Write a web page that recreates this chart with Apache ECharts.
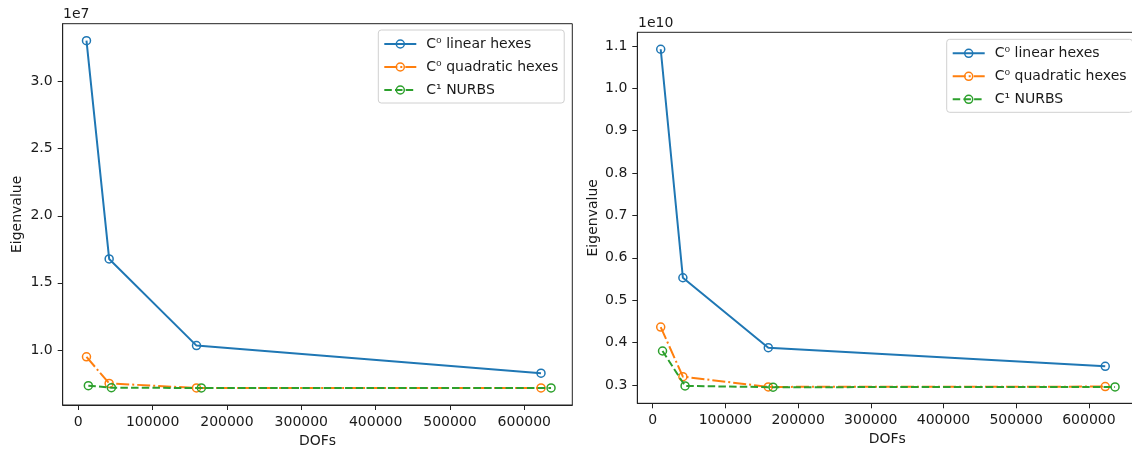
<!DOCTYPE html>
<html>
<head>
<meta charset="utf-8">
<script src="https://cdn.jsdelivr.net/npm/echarts@6/dist/echarts.min.js"></script>
<style>
html,body{margin:0;padding:0;background:#fff;overflow:hidden;}
#c{width:1140px;height:451px;}
</style>
</head>
<body>
<div id="c"></div>
<script>
// ---- data ----
const seriesNames = ['C\u2070 linear hexes', 'C\u2070 quadratic hexes', 'C\u00b9 NURBS'];
const hexDOFs   = [11000, 41500, 159000, 622500];
const nurbsDOFs = [13500, 44500, 165500, 636000];
// left panel (eigenvalue, x 1e7)
const leftLinear    = [3.306e7, 1.678e7, 1.032e7, 0.826e7];
const leftQuadratic = [0.948e7, 0.750e7, 0.716e7, 0.716e7];
const leftNurbs     = [0.733e7, 0.718e7, 0.716e7, 0.716e7];
// right panel (eigenvalue, x 1e10)
const rightLinear    = [1.092e10, 0.553e10, 0.388e10, 0.344e10];
const rightQuadratic = [0.4366e10, 0.3196e10, 0.2955e10, 0.2962e10];
const rightNurbs     = [0.3802e10, 0.2978e10, 0.2948e10, 0.2955e10];
// tick labels
const xTicks = [0, 100000, 200000, 300000, 400000, 500000, 600000];
const leftYTicks = [1.0e7, 1.5e7, 2.0e7, 2.5e7, 3.0e7];
const rightYTicks = [0.3e10, 0.4e10, 0.5e10, 0.6e10, 0.7e10, 0.8e10, 0.9e10, 1.0e10, 1.1e10];

const colors = ['#1f77b4', '#ff7f0e', '#2ca02c'];
const lineTypes = ['solid', [13, 3, 2, 3], [7.5, 3.2]];
const FONT = 'DejaVu Sans';
const FS = 14;
const TXT = '#1a1a1a';

function pair(xs, ys) { return xs.map((x, i) => [x, ys[i]]); }

function mkSeries(name, idx, xs, ys, axisIdx) {
  return {
    type: 'line', name: name,
    xAxisIndex: axisIdx, yAxisIndex: axisIdx,
    data: pair(xs, ys),
    symbol: 'circle', symbolSize: 8,
    showAllSymbol: true,
    animation: false,
    itemStyle: { color: 'rgba(255,255,255,0)', borderColor: colors[idx], borderWidth: 1.5 },
    lineStyle: { color: colors[idx], width: 2, type: lineTypes[idx], cap: 'butt' },
    emphasis: { disabled: true },
    z: 2 + idx
  };
}

function xAxis(gridIndex, min, max) {
  return {
    type: 'value', gridIndex: gridIndex, min: min, max: max,
    name: 'DOFs', nameLocation: 'middle', nameGap: 29,
    nameTextStyle: { fontFamily: FONT, fontSize: FS, color: TXT },
    axisLine: { show: true, onZero: false, lineStyle: { color: '#222', width: 1 } },
    axisTick: { show: true, length: 5, lineStyle: { color: '#222', width: 1 }, customValues: xTicks },
    axisLabel: { show: true, margin: 10, fontFamily: FONT, fontSize: FS, color: TXT, customValues: xTicks,
      formatter: v => String(Math.round(v)) },
    splitLine: { show: false }
  };
}
function yAxis(gridIndex, min, max, ticks, scale, gap) {
  return {
    type: 'value', gridIndex: gridIndex, min: min, max: max,
    name: 'Eigenvalue', nameLocation: 'middle', nameGap: gap,
    nameTextStyle: { fontFamily: FONT, fontSize: FS, color: TXT },
    axisLine: { show: true, onZero: false, lineStyle: { color: '#222', width: 1 } },
    axisTick: { show: true, length: 5, lineStyle: { color: '#222', width: 1 }, customValues: ticks },
    axisLabel: { show: true, margin: 10, fontFamily: FONT, fontSize: FS, color: TXT, customValues: ticks,
      formatter: v => (v / scale).toFixed(1) },
    splitLine: { show: false }
  };
}
function legend(left, top) {
  return {
    orient: 'vertical', left: left, top: top, align: 'left',
    data: seriesNames.map((n, i) => ({
      name: n,
      lineStyle: { color: colors[i], width: 2, type: lineTypes[i], cap: 'butt' },
      itemStyle: { color: 'rgba(255,255,255,0)', borderColor: colors[i], borderWidth: 1.5 }
    })),
    itemWidth: 32, itemHeight: 10, itemGap: 9,
    padding: [7, 6, 6, 5],
    backgroundColor: '#fff', borderColor: '#d0d0d0', borderWidth: 1, borderRadius: 3,
    textStyle: { fontFamily: FONT, fontSize: FS, color: TXT, padding: [0, 0, 0, 5] },
    selectedMode: false
  };
}

const chart = echarts.init(document.getElementById('c'), null, { renderer: 'canvas' });
chart.setOption({
  animation: false,
  backgroundColor: '#fff',
  grid: [
    { left: 62.7, top: 23.7, width: 509.6, height: 381.3, show: true, borderColor: '#222', borderWidth: 1,
      backgroundColor: 'transparent', containLabel: false, outerBoundsMode: 'none' },
    { left: 637.3, top: 32.3, width: 500, height: 371, show: true, borderColor: '#222', borderWidth: 1,
      backgroundColor: 'transparent', containLabel: false, outerBoundsMode: 'none' }
  ],
  xAxis: [ xAxis(0, -21000, 664600), xAxis(1, -21200, 666600) ],
  yAxis: [
    yAxis(0, 0.589e7, 3.4325e7, leftYTicks, 1e7, 38),
    yAxis(1, 0.2568e10, 1.132e10, rightYTicks, 1e10, 37)
  ],
  legend: [ legend(378.3, 30), legend(946.7, 39.3) ],
  series: [
    mkSeries(seriesNames[0], 0, hexDOFs, leftLinear, 0),
    mkSeries(seriesNames[1], 1, hexDOFs, leftQuadratic, 0),
    mkSeries(seriesNames[2], 2, nurbsDOFs, leftNurbs, 0),
    mkSeries(seriesNames[0], 0, hexDOFs, rightLinear, 1),
    mkSeries(seriesNames[1], 1, hexDOFs, rightQuadratic, 1),
    mkSeries(seriesNames[2], 2, nurbsDOFs, rightNurbs, 1)
  ],
  graphic: [
    { type: 'text', left: 63, top: 7, style: { text: '1e7', fontFamily: FONT, fontSize: FS, fill: TXT } },
    { type: 'text', left: 638, top: 16, style: { text: '1e10', fontFamily: FONT, fontSize: FS, fill: TXT } }
  ]
});
</script>
</body>
</html>
